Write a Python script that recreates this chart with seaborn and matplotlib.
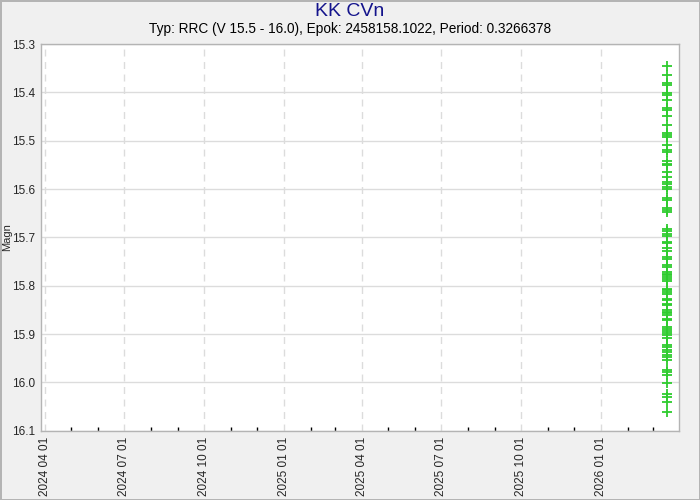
import pandas as pd
import numpy as np
import matplotlib
matplotlib.use("Agg")
import matplotlib.pyplot as plt
import matplotlib.dates as mdates
import seaborn as sns

star = "KK CVn"
subtitle = "Typ: RRC (V 15.5 - 16.0), Epok: 2458158.1022, Period: 0.3266378"
obs_date = "2026-03-18"
magn = [15.345, 15.364, 15.381, 15.385, 15.402, 15.406, 15.416, 15.433, 15.437,
        15.449, 15.468, 15.484, 15.488, 15.493, 15.509, 15.519, 15.523, 15.542,
        15.548, 15.550, 15.564, 15.575, 15.585, 15.590, 15.595, 15.600, 15.619,
        15.623, 15.640, 15.644, 15.647, 15.682, 15.687, 15.692, 15.698, 15.709,
        15.711, 15.723, 15.728, 15.740, 15.744, 15.758, 15.761, 15.771, 15.775,
        15.778, 15.782, 15.787, 15.790, 15.806, 15.809, 15.813, 15.818, 15.827,
        15.830, 15.837, 15.840, 15.851, 15.854, 15.857, 15.861, 15.868, 15.871,
        15.885, 15.889, 15.893, 15.897, 15.902, 15.909, 15.923, 15.927, 15.933,
        15.937, 15.944, 15.947, 15.954, 15.975, 15.978, 15.985, 16.001, 16.023,
        16.030, 16.041, 16.061]

df = pd.DataFrame({"date": pd.to_datetime([obs_date] * len(magn)), "magn": magn})

sns.set_style("white")
plt.rcParams["font.family"] = ["Liberation Sans", "DejaVu Sans"]

fig = plt.figure(figsize=(7, 5), dpi=100, facecolor="#f0f0f0",
                 edgecolor="#b4b4b4", linewidth=2)
ax = fig.add_axes([0.0586, 0.1385, 0.9114, 0.7735])
ax.set_facecolor("white")

sns.scatterplot(data=df, x="date", y="magn", marker="+", s=42, color="#2ecc2e",
                linewidth=1.3, ax=ax, legend=False)

ax.set_xlim(pd.Timestamp("2024-03-27"), pd.Timestamp("2026-03-31 12:00"))
ax.set_ylim(16.1, 15.3)
ax.set_yticks(np.arange(15.3, 16.11, 0.1))
ax.yaxis.set_major_formatter(plt.FormatStrFormatter("%.1f"))
ax.xaxis.set_major_locator(mdates.MonthLocator(bymonth=[1, 4, 7, 10]))
ax.xaxis.set_minor_locator(mdates.MonthLocator())
ax.xaxis.set_major_formatter(mdates.DateFormatter("%Y %m %d"))
plt.setp(ax.get_xticklabels(), rotation=90)

ax.grid(axis="y", color="#dcdcdc", linewidth=1, linestyle="-")
ax.grid(axis="x", color="#dcdcdc", linewidth=1, linestyle=(0, (5, 4)))
ax.tick_params(axis="both", which="major", direction="in", length=5, width=1,
               color="black")
ax.tick_params(axis="y", labelsize=8.5, pad=4)
ax.tick_params(axis="x", labelsize=8.5, pad=4)
ax.tick_params(axis="x", which="minor", direction="in", length=3, width=1,
               color="black", bottom=True)
for sp in ax.spines.values():
    sp.set_color("#b4b4b4")
    sp.set_linewidth(1)

ax.set_xlabel("")
ax.set_ylabel("Magn", fontsize=8)
ax.yaxis.set_label_coords(-0.045, 0.5)

fig.text(0.5, 0.976, star, ha="center", va="center", fontsize=14, color="#14148c")
fig.text(0.5, 0.942, subtitle, ha="center", va="center", fontsize=9.8, color="black")

fig.savefig("out.png", dpi=100, facecolor=fig.get_facecolor(), edgecolor=fig.get_edgecolor())
